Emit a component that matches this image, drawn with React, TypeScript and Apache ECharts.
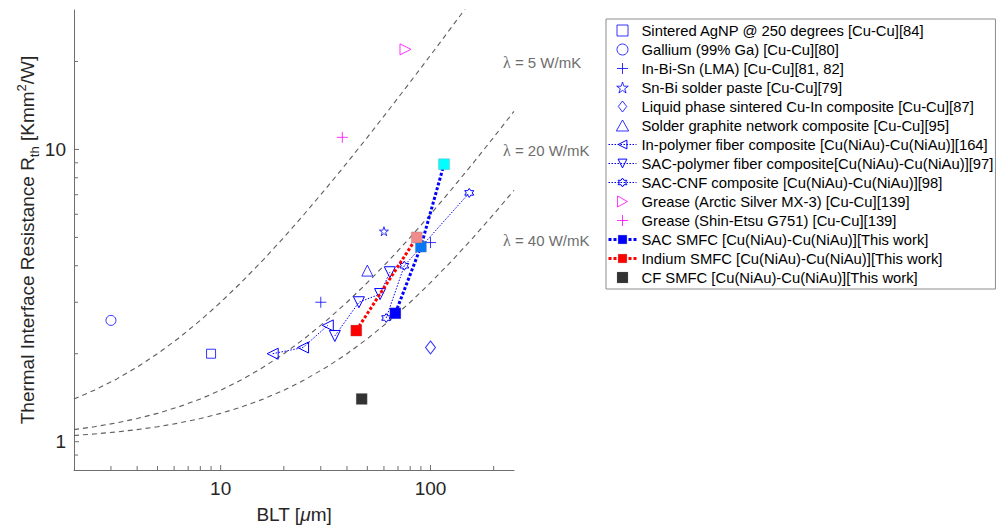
import React, { useEffect, useRef } from 'react';
import * as echarts from 'echarts';

// ---------- data ----------
const X_MIN = 2;
const X_MAX = 250;
const Y_MIN = 0.8;
const Y_MAX = 30;

const X_TICK_LABELS = [10, 100];
const Y_TICK_LABELS = [1, 10];
const X_MAJOR_TICKS = [10, 100];
const X_MINOR_TICKS = [3, 4, 5, 6, 7, 8, 9, 20, 30, 40, 50, 60, 70, 80, 90, 200];
const Y_MAJOR_TICKS = [1, 10];
const Y_MINOR_TICKS = [0.9, 2, 3, 4, 5, 6, 7, 8, 9, 20];

const agnp = [[9, 2.0]];
const gallium = [[3, 2.6]];
const inBiSn = [[30, 3.0], [100, 4.8]];
const snBi = [[60, 5.25]];
const cuIn = [[100, 2.1]];
const graphiteNet = [[50, 3.85]];
const inPolymer = [[17.7, 2.0], [24.7, 2.1], [32.4, 2.5]];
const sacPolymer = [[35, 2.3], [45.6, 3.0], [57.5, 3.2], [64, 3.8]];
const sacCnf = [[61.5, 2.65], [75, 4.0], [153, 7.1]];
const arcticSilver = [[76, 22]];
const shinEtsu = [[38, 11]];
const sacSmfc = [[68, 2.75], [90, 4.65], [116, 8.9]];
const inSmfc = [[44.3, 2.4], [86, 5.0]];
const cfSmfc = [[47, 1.4]];

const LAMBDAS = [5, 20, 40];
const R0 = 1;
const BLT_SAMPLES = [2, 2.5, 3.2, 4, 5, 6.3, 8, 10, 12.5, 16, 20, 25, 32, 40, 50, 63, 80, 100, 125, 160, 200, 250];

const NAMES = [
  'Sintered AgNP @ 250 degrees [Cu-Cu][84]',
  'Gallium (99% Ga) [Cu-Cu][80]',
  'In-Bi-Sn (LMA) [Cu-Cu][81, 82]',
  'Sn-Bi solder paste [Cu-Cu][79]',
  'Liquid phase sintered Cu-In composite [Cu-Cu][87]',
  'Solder graphite network composite [Cu-Cu][95]',
  'In-polymer fiber composite [Cu(NiAu)-Cu(NiAu)][164]',
  'SAC-polymer fiber composite[Cu(NiAu)-Cu(NiAu)][97]',
  'SAC-CNF composite [Cu(NiAu)-Cu(NiAu)][98]',
  'Grease (Arctic Silver MX-3) [Cu-Cu][139]',
  'Grease (Shin-Etsu G751) [Cu-Cu][139]',
  'SAC SMFC [Cu(NiAu)-Cu(NiAu)][This work]',
  'Indium SMFC [Cu(NiAu)-Cu(NiAu)][This work]',
  'CF SMFC [Cu(NiAu)-Cu(NiAu)][This work]',
];

// ---------- styles ----------
const SANS = 'Arial, "Liberation Sans", Helvetica, sans-serif';
const SERIF = '"Liberation Serif", "DejaVu Serif", serif';
const BLUE = '#0000ff';
const MAGENTA = '#ff00ff';
const AXIS_COLOR = '#6e6e6e';
const LABEL_COLOR = '#262626';
const CURVE_COLOR = '#5e5e5e';
const SAC_SMFC_COLORS = ['#0000ff', '#0a78f5', '#00ffff'];
const IN_SMFC_COLORS = ['#ff0000', '#f28c8c'];

const SYM = {
  square: 'path://M0,0L10,0L10,10L0,10Z',
  diamond: 'path://M5,0L10,6.5L5,13L0,6.5Z',
  plus: 'path://M5,0L5,10M0,5L10,5',
  star5: 'path://M0,-10L2.245,-3.09L9.511,-3.09L3.633,1.18L5.878,8.09L0,3.82L-5.878,8.09L-3.633,1.18L-9.511,-3.09L-2.245,-3.09Z',
  star6: 'path://M0,-10L2.887,-5L8.66,-5L5.774,0L8.66,5L2.887,5L0,10L-2.887,5L-8.66,5L-5.774,0L-8.66,-5L-2.887,-5Z',
  triUp: 'path://M5,0L10,9L0,9Z',
  triLeft: 'path://M0,5L9,0L9,10Z',
  triDown: 'path://M0,0L10,0L5,9Z',
  triRight: 'path://M0,0L9,5L0,10Z',
};

function hollowScatter(name: string, data: number[][], symbol: string, size: any, color: string) {
  return {
    type: 'scatter',
    name,
    data,
    symbol,
    symbolSize: size,
    itemStyle: { color: 'transparent', borderColor: color, borderWidth: 1 },
    z: 4,
  };
}

function hollowLine(name: string, data: number[][], symbol: string, size: any) {
  return {
    type: 'line',
    name,
    data,
    symbol,
    symbolSize: size,
    showSymbol: true,
    itemStyle: { color: 'transparent', borderColor: BLUE, borderWidth: 1 },
    lineStyle: { color: BLUE, width: 1, type: [1.5, 1.5] },
    z: 4,
  };
}

function smfcLine(name: string, data: number[][], colors: string[]) {
  return {
    type: 'line',
    name,
    symbol: SYM.square,
    symbolSize: 11,
    showSymbol: true,
    data: data.map((d, i) => ({ value: d, itemStyle: { color: colors[i] } })),
    itemStyle: { color: colors[0], borderColor: 'rgba(120,120,120,0.5)', borderWidth: 0.5 },
    lineStyle: { color: colors[0], width: 3, type: [3, 2] },
    z: 6,
  };
}

function tickSeries(values: number[][], axis: 'x' | 'y') {
  return {
    type: 'custom',
    name: '_' + axis + 'ticks',
    silent: true,
    clip: false,
    z: 8,
    encode: { x: 0, y: 1 },
    data: values,
    renderItem: (params: any, api: any) => {
      const p = api.coord([api.value(0), api.value(1)]);
      const len = api.value(2) ? 5 : 4;
      const shape = axis === 'x'
        ? { x1: p[0], y1: p[1], x2: p[0], y2: p[1] - len }
        : { x1: p[0], y1: p[1], x2: p[0] + len, y2: p[1] };
      return { type: 'line', shape, style: { stroke: AXIS_COLOR, lineWidth: 1 } };
    },
  };
}

const labelFmt = (list: number[]) => (v: number) => {
  const hit = list.find((t) => Math.abs(t - v) < 1e-6 * t);
  return hit !== undefined ? String(hit) : '';
};

const xTickData = [
  ...X_MAJOR_TICKS.map((v) => [v, Y_MIN, 1]),
  ...X_MINOR_TICKS.map((v) => [v, Y_MIN, 0]),
];
const yTickData = [
  ...Y_MAJOR_TICKS.map((v) => [X_MIN, v, 1]),
  ...Y_MINOR_TICKS.map((v) => [X_MIN, v, 0]),
];

const curveSeries = LAMBDAS.map((l) => ({
  type: 'line',
  name: '_lambda' + l,
  data: BLT_SAMPLES.map((b) => [b, R0 + b / l]),
  symbol: 'none',
  silent: true,
  clip: true,
  lineStyle: { color: CURVE_COLOR, width: 1.1, type: [5, 4] },
  z: 1,
}));

const lambdaLabelY = [62, 150, 240];

const option: any = {
  animation: false,
  backgroundColor: '#ffffff',
  grid: { left: 74, right: 486, top: 10, bottom: 57, containLabel: false },
  xAxis: {
    type: 'log',
    logBase: 10,
    min: X_MIN,
    max: X_MAX,
    name: '{a|BLT [}{mu|μ}{a|m]}',
    nameLocation: 'middle',
    nameGap: 35,
    nameTextStyle: {
      color: LABEL_COLOR,
      fontFamily: SANS,
      fontSize: 19,
      rich: {
        a: { fontFamily: SANS, fontSize: 19, color: LABEL_COLOR },
        mu: { fontFamily: SANS, fontSize: 19, fontStyle: 'italic', color: LABEL_COLOR },
      },
    },
    axisLine: { show: true, onZero: false, lineStyle: { color: AXIS_COLOR, width: 1 } },
    axisTick: { show: false },
    splitLine: { show: false },
    axisLabel: {
      color: LABEL_COLOR,
      fontFamily: SANS,
      fontSize: 19,
      margin: 9,
      showMinLabel: false,
      showMaxLabel: false,
      formatter: labelFmt(X_TICK_LABELS),
    },
  },
  yAxis: {
    type: 'log',
    logBase: 10,
    min: Y_MIN,
    max: Y_MAX,
    name: '{a|Thermal Interface Resistance R}{sub|th}{a| [Kmm}{sup|2}{a|/W]}',
    nameLocation: 'middle',
    nameGap: 32,
    nameTextStyle: {
      color: LABEL_COLOR,
      fontFamily: SANS,
      fontSize: 19,
      rich: {
        a: { fontFamily: SANS, fontSize: 19, lineHeight: 26, color: LABEL_COLOR },
        sub: { fontFamily: SANS, fontSize: 13, lineHeight: 10, verticalAlign: 'bottom', color: LABEL_COLOR },
        sup: { fontFamily: SANS, fontSize: 13, lineHeight: 16, verticalAlign: 'top', color: LABEL_COLOR },
      },
    },
    axisLine: { show: true, onZero: false, lineStyle: { color: AXIS_COLOR, width: 1 } },
    axisTick: { show: false },
    splitLine: { show: false },
    axisLabel: {
      color: LABEL_COLOR,
      fontFamily: SANS,
      fontSize: 19,
      margin: 8,
      showMinLabel: false,
      showMaxLabel: false,
      formatter: labelFmt(Y_TICK_LABELS),
    },
  },
  legend: {
    data: NAMES,
    orient: 'vertical',
    left: 606,
    top: 19,
    padding: [4, 2, 4, 1],
    itemWidth: 28,
    itemHeight: 11,
    itemGap: 4,
    align: 'left',
    selectedMode: false,
    symbolKeepAspect: true,
    borderColor: '#8c8c8c',
    borderWidth: 1,
    backgroundColor: '#ffffff',
    itemStyle: { borderWidth: 'inherit' },
    lineStyle: { width: 'inherit' },
    textStyle: { fontFamily: SANS, fontSize: 14.8, lineHeight: 15, color: '#000000' },
  },
  graphic: LAMBDAS.map((l, i) => ({
    type: 'text',
    x: 503,
    y: lambdaLabelY[i],
    silent: true,
    style: {
      text: '{l|λ} = ' + l + ' W/mK',
      fill: '#6e6e6e',
      fontFamily: SANS,
      fontSize: 15,
      verticalAlign: 'middle',
      rich: {
        l: { fontFamily: SERIF, fontSize: 16, fill: '#6e6e6e' },
      },
    },
  })),
  series: [
    ...curveSeries,
    hollowScatter(NAMES[0], agnp, SYM.square, 9, BLUE),
    hollowScatter(NAMES[1], gallium, 'circle', 10, BLUE),
    hollowScatter(NAMES[2], inBiSn, SYM.plus, 11, BLUE),
    hollowScatter(NAMES[3], snBi, SYM.star5, 9, BLUE),
    hollowScatter(NAMES[4], cuIn, SYM.diamond, [10, 13], BLUE),
    hollowScatter(NAMES[5], graphiteNet, SYM.triUp, 11, BLUE),
    hollowLine(NAMES[6], inPolymer, SYM.triLeft, 11),
    hollowLine(NAMES[7], sacPolymer, SYM.triDown, 11),
    hollowLine(NAMES[8], sacCnf, SYM.star6, 9),
    hollowScatter(NAMES[9], arcticSilver, SYM.triRight, 11, MAGENTA),
    hollowScatter(NAMES[10], shinEtsu, SYM.plus, 11, MAGENTA),
    smfcLine(NAMES[11], sacSmfc, SAC_SMFC_COLORS),
    smfcLine(NAMES[12], inSmfc, IN_SMFC_COLORS),
    {
      type: 'scatter',
      name: NAMES[13],
      data: cfSmfc,
      symbol: SYM.square,
      symbolSize: 11,
      itemStyle: { color: '#000000', borderColor: 'rgba(120,120,120,0.5)', borderWidth: 0.5 },
      z: 6,
    },
    tickSeries(xTickData, 'x'),
    tickSeries(yTickData, 'y'),
  ],
};

export default function App() {
  const ref = useRef<HTMLDivElement>(null);
  useEffect(() => {
    const chart = echarts.init(ref.current as HTMLDivElement, null, { renderer: 'svg' });
    chart.setOption(option);
    return () => chart.dispose();
  }, []);
  return (
    <div
      ref={ref}
      style={{ position: 'absolute', left: 0, top: 0, width: 1000, height: 529, background: '#ffffff' }}
    />
  );
}
